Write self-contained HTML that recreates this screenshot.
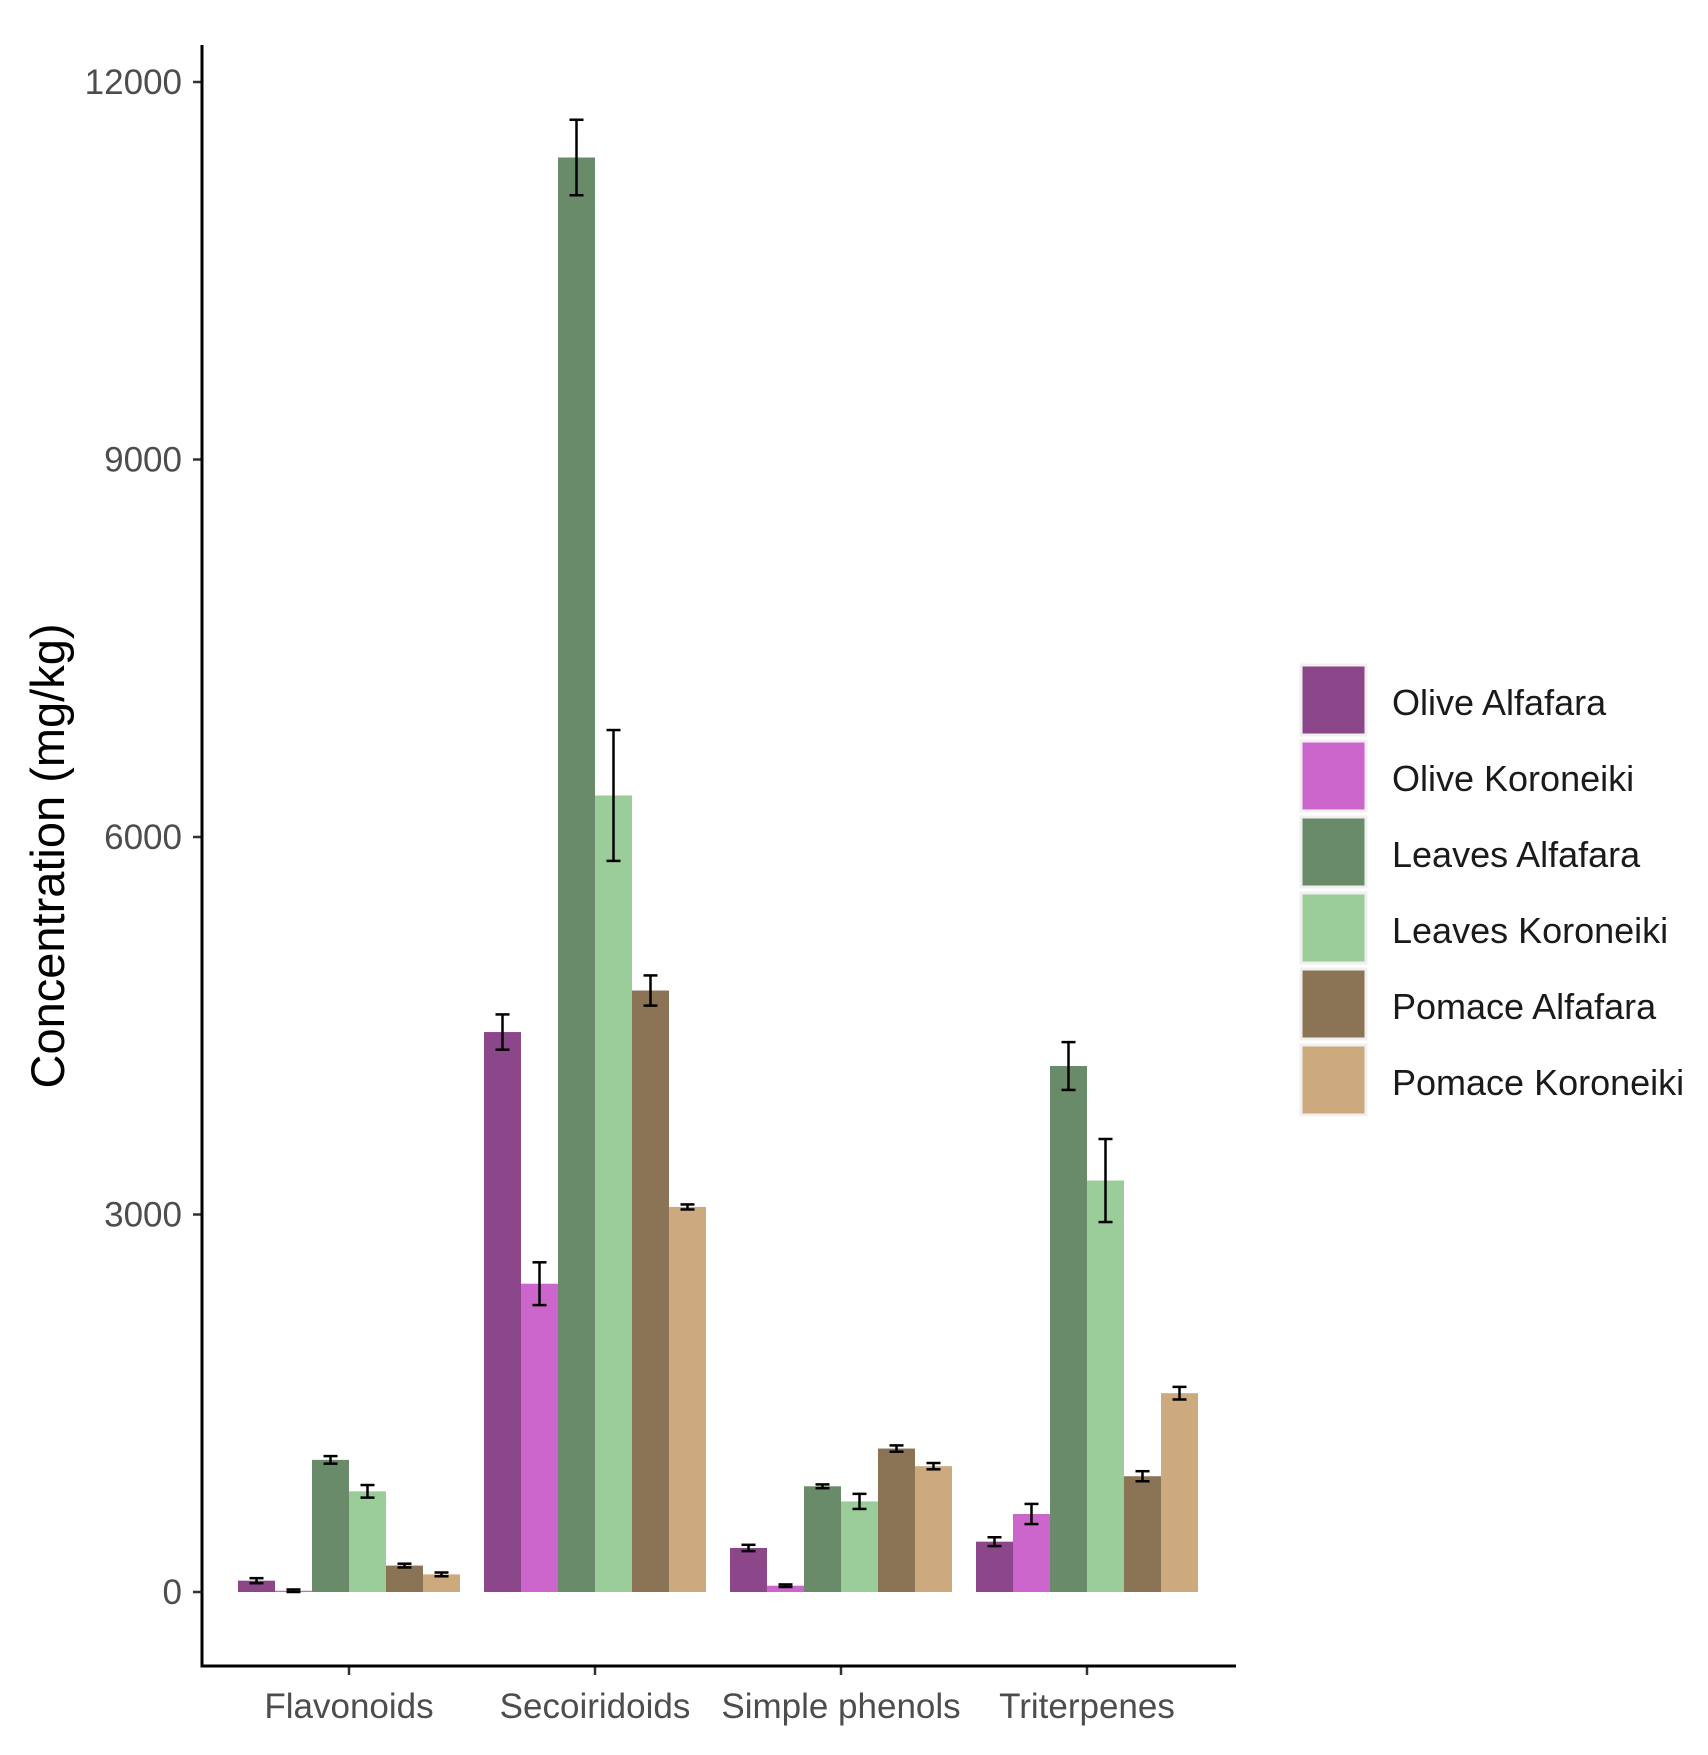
<!DOCTYPE html>
<html><head><meta charset="utf-8"><style>
body{margin:0;background:#fff;}
svg{display:block;font-family:"Liberation Sans",sans-serif;}
</style></head><body>
<svg id="chart" width="1708" height="1755"></svg>
<script>
const categories=["Flavonoids","Secoiridoids","Simple phenols","Triterpenes"];
const seriesNames=["Olive Alfafara","Olive Koroneiki","Leaves Alfafara","Leaves Koroneiki","Pomace Alfafara","Pomace Koroneiki"];
const oliveAlfafara=[90,4450,350,400];
const oliveKoroneiki=[10,2450,50,620];
const leavesAlfafara=[1050,11400,840,4180];
const leavesKoroneiki=[800,6330,720,3270];
const pomaceAlfafara=[210,4780,1140,920];
const pomaceKoroneiki=[140,3060,1000,1580];
const errOA=[20,140,25,35];
const errOK=[10,170,10,80];
const errLA=[30,300,15,190];
const errLK=[50,520,60,330];
const errPA=[15,120,25,40];
const errPK=[15,20,25,50];
const yTicks=[0,3000,6000,9000,12000];
const colors=["#8B4789","#CC66CC","#698B69","#9BCD9B","#8B7355","#CDAA7D"];
const values=[oliveAlfafara,oliveKoroneiki,leavesAlfafara,leavesKoroneiki,pomaceAlfafara,pomaceKoroneiki];
const errs=[errOA,errOK,errLA,errLK,errPA,errPK];
const NS="http://www.w3.org/2000/svg";
const svg=document.getElementById('chart');
function y(v){return 1592-v*(1510/12000);}
function xc(i){return 349+i*246;}
const bw=37;
function mk(tag,attrs,parent){const e=document.createElementNS(NS,tag);for(const k in attrs)e.setAttribute(k,attrs[k]);(parent||svg).appendChild(e);return e;}
categories.forEach((c,i)=>{
 values.forEach((s,j)=>{
  const x0=xc(i)-3*bw+j*bw;
  const r=mk('rect',{x:x0,y:y(s[i]),width:bw,height:y(0)-y(s[i]),fill:colors[j]});
  
  
 });
 values.forEach((s,j)=>{
  const cx=xc(i)-3*bw+j*bw+bw/2;
  const g=mk('g',{stroke:'#000','stroke-width':2.5});
  
  
  const t=y(s[i]+errs[j][i]),b=y(s[i]-errs[j][i]);
  mk('line',{x1:cx,x2:cx,y1:t,y2:b},g);
  mk('line',{x1:cx-7,x2:cx+7,y1:t,y2:t},g);
  mk('line',{x1:cx-7,x2:cx+7,y1:b,y2:b},g);
 });
 const tk=mk('line',{x1:xc(i),x2:xc(i),y1:1666,y2:1675,stroke:'#333','stroke-width':2.5});
 
 
 const tl=mk('text',{x:xc(i),y:1718,'text-anchor':'middle','font-size':35,fill:'#4d4d4d'});
 tl.textContent=c;
 
 
});
yTicks.forEach(v=>{
 const tk=mk('line',{x1:193,x2:202,y1:y(v),y2:y(v),stroke:'#333','stroke-width':2.5});
 
 
 const tl=mk('text',{x:182,y:y(v)+12,'text-anchor':'end','font-size':35,fill:'#4d4d4d'});
 tl.textContent=v;
 
 
});
const ax=mk('path',{d:'M202 45 V1666 H1236',fill:'none',stroke:'#000','stroke-width':3});


const yt=mk('text',{x:0,y:0,transform:'translate(64,856) rotate(-90)','text-anchor':'middle','font-size':47,fill:'#000'});
yt.textContent='Concentration (mg/kg)';


seriesNames.forEach((n,j)=>{
 const g=mk('g',{});
 
 
 mk('rect',{x:1301,y:665+j*76,width:65,height:70,fill:colors[j],stroke:'#f0f0f0','stroke-width':3},g);
 const t=mk('text',{x:1392,y:715+j*76,'font-size':36,fill:'#1a1a1a'},g);
 t.textContent=n;
});
</script>
</body></html>
